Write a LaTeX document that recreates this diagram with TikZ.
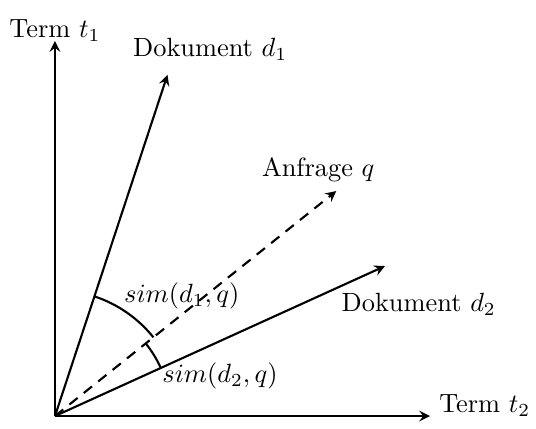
\documentclass[tikz,border=0pt]{standalone}
\usetikzlibrary{positioning}
\tikzset{
  vec/.style={thick, -stealth},
  axis/.style={thick, -stealth},
  lab/.style={anchor=base}
}
\begin{document}
\begin{tikzpicture}
\useasboundingbox (-0.733,-0.16) rectangle (6.413,5.547);
% Achsen
\coordinate (O) at (0,0);
\coordinate (t1) at (0,5);
\coordinate (t2) at (5,0);
\draw [axis] (O) -- (t1);
\draw [axis] (O) -- (t2);
\node [lab] (t1lab) at (0,5.05) {Term $t_1$};
\node [anchor=base west] (t2lab) at (5,0.05) {Term $t_2$};

% Dokumente und Anfrage
\coordinate (d1) at (1.5,4.55);
\coordinate (q) at (3.75,3);
\coordinate (d2) at (4.4,2);
\draw [vec] (O) -- (d1);
\draw [vec] (O) -- (d2);
\draw [vec, dash pattern=on 4pt off 3pt] (O) -- (q);
\node [lab] (d1lab) at (2.07,4.79) {Dokument $d_1$};
\node [lab] (qlab) at (3.51,3.2) {Anfrage $q$};
\node [lab] (d2lab) at (4.85,1.39) {Dokument $d_2$};

% Winkel
\draw [thick] (71.76:1.68) arc (71.76:38.66:1.68);
\draw [thick] (38.66:1.55) arc (38.66:24.44:1.55);
\node [lab] (sim1) at (1.69,1.51) {$sim(d_1,q)$};
\node [lab] (sim2) at (2.2,0.45) {$sim(d_2,q)$};
\end{tikzpicture}
\end{document}
